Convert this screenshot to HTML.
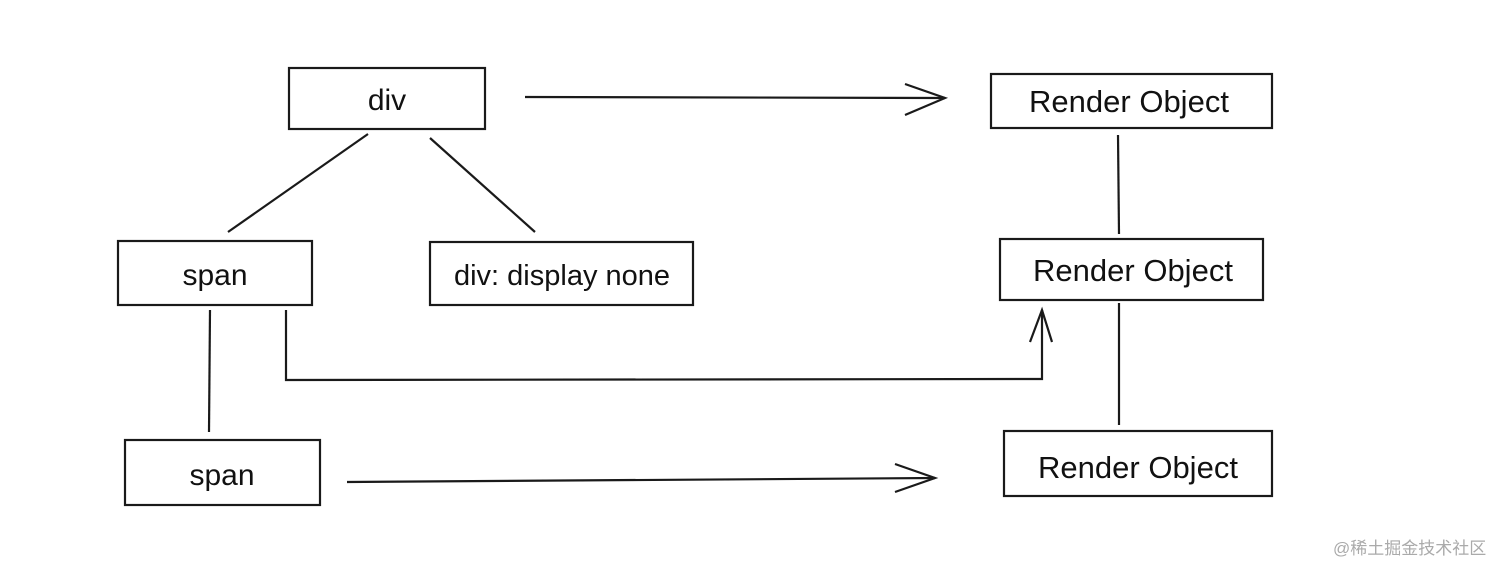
<!DOCTYPE html>
<html><head><meta charset="utf-8"><style>
html,body{margin:0;padding:0;background:#fff;}
svg{display:block;}
text{font-family:"Liberation Sans","DejaVu Sans",sans-serif;fill:#111;}
</style></head><body>
<svg width="1512" height="575" viewBox="0 0 1512 575" xmlns="http://www.w3.org/2000/svg">
<g fill="none" stroke="#1a1a1a" stroke-width="2.2">
<rect x="289" y="68" width="196" height="61"/>
<rect x="118" y="241" width="194" height="64"/>
<rect x="430" y="242" width="263" height="63"/>
<rect x="125" y="440" width="195" height="65"/>
<rect x="991" y="74" width="281" height="54"/>
<rect x="1000" y="239" width="263" height="61"/>
<rect x="1004" y="431" width="268" height="65"/>
<line x1="525" y1="97" x2="945" y2="98"/>
<polyline points="905,84 945,98 905,115"/>
<line x1="368" y1="134" x2="228" y2="232"/>
<line x1="430" y1="138" x2="535" y2="232"/>
<line x1="210" y1="310" x2="209" y2="432"/>
<polyline points="286,310 286,380 1042,379 1042,310"/>
<polyline points="1030,342 1042,310 1052,342"/>
<line x1="347" y1="482" x2="935" y2="478"/>
<polyline points="895,464 935,478 895,492"/>
<line x1="1118" y1="135" x2="1119" y2="234"/>
<line x1="1119" y1="303" x2="1119" y2="425"/>
</g>
<g font-size="30">
<text x="387" y="110" text-anchor="middle">div</text>
<text x="215" y="285" text-anchor="middle">span</text>
<text x="562" y="285" text-anchor="middle" font-size="29">div: display none</text>
<text x="222" y="485" text-anchor="middle">span</text>
<text x="1129" y="112" text-anchor="middle" font-size="31">Render Object</text>
<text x="1133" y="281" text-anchor="middle" font-size="31">Render Object</text>
<text x="1138" y="478" text-anchor="middle" font-size="31">Render Object</text>
</g>
<text x="1333" y="554" font-size="17" style="fill:#aaa;font-family:'Liberation Sans','Noto Sans CJK SC',sans-serif">@稀土掘金技术社区</text>
</svg>
</body></html>
